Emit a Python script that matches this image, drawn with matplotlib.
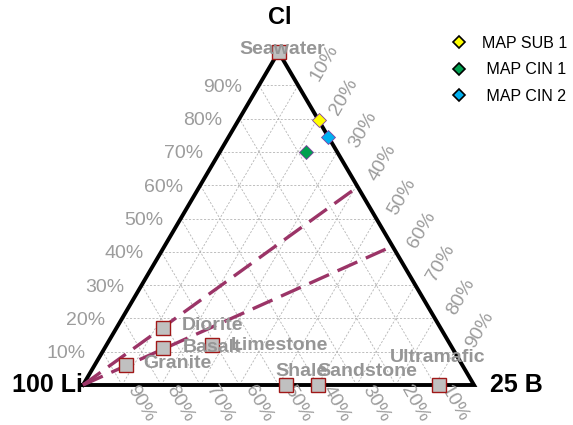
import matplotlib
matplotlib.use("Agg")
import matplotlib.pyplot as plt
from matplotlib.lines import Line2D

plt.rcParams['font.family'] = ['Liberation Sans', 'DejaVu Sans']

# reference rocks (Li, B, Cl) in %
ref_names = ["Seawater", "Granite", "Basalt", "Diorite", "Limestone", "Shale", "Sandstone", "Ultramafic"]
ref_li = [0, 86, 74, 71, 61, 48, 40, 9]
ref_b = [0, 8, 15, 12, 27, 52, 60, 91]
ref_cl = [100, 6, 11, 17, 12, 0, 0, 0]
# label offsets (pixels) and alignment
ref_off = [(4, 3), (17, 2), (20, 1), (19, 3), (19, 0), (-11, 13), (0, 13), (-49, 28)]
ref_ha = ["center", "left", "left", "left", "left", "left", "left", "left"]

# samples
smp_names = ["MAP SUB 1", " MAP CIN 1", " MAP CIN 2"]
smp_li = [0, 8, 0]
smp_b = [20.5, 22, 25.5]
smp_cl = [79.5, 70, 74.5]
smp_col = ["#FFFF00", "#00A050", "#00B0F0"]

# dashed mixing lines, end on the B-Cl side
line_b = [40.5, 58.3]
line_cl = [59.5, 41.7]

ticks = [10, 20, 30, 40, 50, 60, 70, 80, 90]


def proj(li, b, cl):
    s = li + b + cl
    return (b + cl / 2) / s, cl / s


fig = plt.figure(figsize=(5.73, 4.25), dpi=100)
ax = fig.add_axes([83 / 573, 40 / 425, 391 / 573, 333 / 425])
ax.set_xlim(0, 1)
ax.set_ylim(0, 1)
ax.axis("off")

gridkw = dict(color="#b4b4b4", lw=0.6, ls=(0, (2.5, 2)), zorder=1)
for t in ticks:
    f = t / 100
    # Cl const
    ax.plot([f / 2, 1 - f / 2], [f, f], **gridkw)
    # B const
    ax.plot([f, f + (1 - f) / 2], [0, 1 - f], **gridkw)
    # Li const
    ax.plot([1 - f, (1 - f) / 2], [0, 1 - f], **gridkw)

# triangle
ax.plot([0, 1, 0.5, 0], [0, 0, 1, 0], color="black", lw=2.8, zorder=3, clip_on=False,
        solid_joinstyle="miter")

# tick labels
tcol = "#9c9c9c"
for t in ticks:
    f = t / 100
    ax.annotate(f"{t}%", (f / 2, f), xytext=(-17, -2), textcoords="offset pixels",
                ha="right", va="center", color=tcol, fontsize=14)
    ax.annotate(f"{t}%", (f + (1 - f) / 2, 1 - f), xytext=(26, 22), textcoords="offset pixels",
                ha="center", va="center", rotation=60, color=tcol, fontsize=14)
    ax.annotate(f"{t}%", (1 - f, 0), xytext=(19, -19), textcoords="offset pixels",
                ha="center", va="center", rotation=-60, color=tcol, fontsize=14)

# dashed lines from the Li corner
for b, cl in zip(line_b, line_cl):
    x1, y1 = proj(0, b, cl)
    ax.plot([0, x1], [0, y1], color="#9B3467", lw=2.4, dashes=(6.5, 2.8), zorder=4,
            clip_on=False)

# reference points
for n, li, b, cl, off, ha in zip(ref_names, ref_li, ref_b, ref_cl, ref_off, ref_ha):
    x, y = proj(li, b, cl)
    ax.plot(x, y, "s", ms=9.5, mfc="#c0c0c0", mec="#a01818", mew=1, zorder=5, clip_on=False)
    ax.annotate(n, (x, y), xytext=off, textcoords="offset pixels", ha=ha, va="center",
                color="#969696", fontsize=14, fontweight="bold", zorder=6)

# samples
for n, li, b, cl, c in zip(smp_names, smp_li, smp_b, smp_cl, smp_col):
    x, y = proj(li, b, cl)
    ax.plot(x, y, "D", ms=7.5, mfc=c, mec="#8040a0", mew=0.6, zorder=7, clip_on=False)

# corner titles
ax.annotate("Cl", (0.5, 1), xytext=(1, 34), textcoords="offset pixels", ha="center",
            va="center", fontsize=17, fontweight="bold")
ax.annotate("100 Li", (0, 0), xytext=(0, 0), textcoords="offset pixels", ha="right",
            va="center", fontsize=18, fontweight="bold")
ax.annotate("25 B", (1, 0), xytext=(16, 0), textcoords="offset pixels", ha="left",
            va="center", fontsize=18, fontweight="bold")

handles = [Line2D([], [], ls="none", marker="D", ms=6.5, mfc=c, mec="black", mew=1.2)
           for c in smp_col]
fig.legend(handles, smp_names, loc="upper left", bbox_to_anchor=(443 / 573, 1 - 28 / 425),
           frameon=False, fontsize=11.5, handlelength=1.0, handletextpad=0.95,
           labelspacing=0.72, borderpad=0)

fig.savefig("out.png", dpi=100)
